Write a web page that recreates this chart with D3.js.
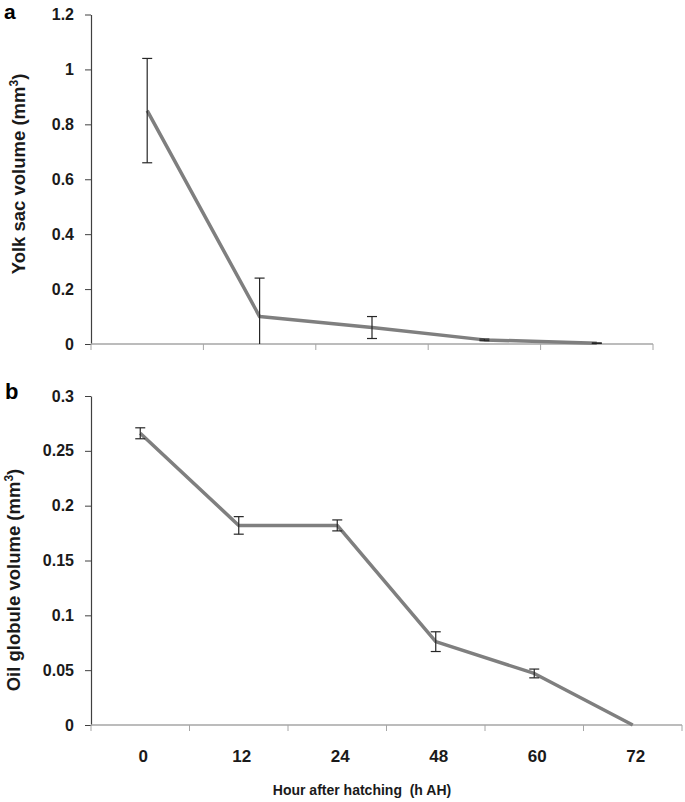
<!DOCTYPE html>
<html>
<head>
<meta charset="utf-8">
<script src="https://cdn.jsdelivr.net/npm/d3@7"></script>
<style>
  html, body { margin: 0; padding: 0; background: #fff; }
  svg { display: block; font-family: Arial, "Liberation Sans", sans-serif; }
</style>
</head>
<body>
<script>
// ---- data ----
const hours = ["0", "12", "24", "48", "60", "72"];
const yolkHours = ["0", "12", "24", "48", "60"];
const yolkMean = [0.85, 0.10, 0.06, 0.015, 0.003];
const yolkErr = [0.19, 0.14, 0.04, 0.003, 0.001];
const oilMean = [0.266, 0.182, 0.182, 0.076, 0.047, 0];
const oilErr = [0.005, 0.008, 0.005, 0.009, 0.004, 0];
const yolkTicks = [0, 0.2, 0.4, 0.6, 0.8, 1, 1.2];
const oilTicks = [0, 0.05, 0.1, 0.15, 0.2, 0.25, 0.3];

const W = 685, H = 802;
const svg = d3.select("body").append("svg").attr("width", W).attr("height", H);

const LINE = "#7f7f7f", TXT = "#1a1a1a";
const FONT = "Arial, 'Liberation Sans', sans-serif";

function panel(opts) {
  const { cats, mean, err, ticks, x0, x1, yBottom, yTop, yMax, showLabels } = opts;
  const x = d3.scaleBand().domain(cats).range([x0, x1]).padding(0);
  const y = d3.scaleLinear().domain([0, yMax]).range([yBottom, yTop]);
  const g = svg.append("g");

  // y axis
  const ya = g.append("g").attr("transform", `translate(${x0},0)`)
    .call(d3.axisLeft(y).tickValues(ticks).tickFormat(d => String(d))
      .tickSize(6).tickPadding(11).tickSizeOuter(0));
  ya.select(".domain").attr("stroke", "#404040").attr("stroke-width", 1.2);
  ya.selectAll(".tick line").attr("stroke", "#404040");
  ya.selectAll("text").attr("font-size", 16).attr("font-weight", "bold").attr("fill", TXT)
    .attr("font-family", FONT);

  // x axis (ticks at band boundaries)
  const xa = g.append("g").attr("transform", `translate(0,${yBottom})`);
  xa.append("line").attr("x1", x0).attr("x2", x1).attr("y1", 0).attr("y2", 0)
    .attr("stroke", "#a6a6a6").attr("stroke-width", 1.5);
  const bounds = cats.map(c => x(c)).concat([x(cats[cats.length - 1]) + x.bandwidth()]);
  xa.selectAll("line.tk").data(bounds).join("line").attr("class", "tk")
    .attr("x1", d => d).attr("x2", d => d).attr("y1", 0).attr("y2", 6)
    .attr("stroke", "#a6a6a6").attr("stroke-width", 1);
  if (showLabels) {
    xa.selectAll("text").data(cats).join("text")
      .attr("x", d => x(d) + x.bandwidth() / 2 + 3).attr("y", 37)
      .attr("text-anchor", "middle").attr("font-size", 17).attr("font-weight", "bold")
      .attr("fill", TXT).text(d => d);
  }

  const pts = cats.map((c, i) => ({ c, v: mean[i], e: err[i] }));
  const cx = d => x(d.c) + x.bandwidth() / 2;

  // line
  g.append("path").datum(pts)
    .attr("d", d3.line().x(cx).y(d => y(d.v)))
    .attr("fill", "none").attr("stroke", LINE).attr("stroke-width", 3.5)
    .attr("stroke-linejoin", "round");

  // error bars
  const eb = g.append("g").attr("stroke", "#262626").attr("stroke-width", 1.2);
  pts.filter(d => d.e > 0).forEach(d => {
    const hi = d.v + d.e, lo = Math.max(0, d.v - d.e);
    eb.append("line").attr("x1", cx(d)).attr("x2", cx(d)).attr("y1", y(hi)).attr("y2", y(lo));
    eb.append("line").attr("x1", cx(d) - 5).attr("x2", cx(d) + 5).attr("y1", y(hi)).attr("y2", y(hi));
    if (d.v - d.e > 0)
      eb.append("line").attr("x1", cx(d) - 5).attr("x2", cx(d) + 5).attr("y1", y(lo)).attr("y2", y(lo));
  });
  return { x, y };
}

panel({ cats: yolkHours, mean: yolkMean, err: yolkErr, ticks: yolkTicks,
  x0: 91, x1: 653, yBottom: 344, yTop: 14.5, yMax: 1.2, showLabels: false });
panel({ cats: hours, mean: oilMean, err: oilErr, ticks: oilTicks,
  x0: 91, x1: 682, yBottom: 725, yTop: 396, yMax: 0.3, showLabels: true });

// panel letters
svg.append("text").attr("x", 4).attr("y", 19).attr("font-size", 21).attr("font-weight", "bold")
  .attr("fill", "#000").text("a");
svg.append("text").attr("x", 5).attr("y", 399).attr("font-size", 22).attr("font-weight", "bold")
  .attr("fill", "#000").text("b");

// y-axis titles
function yTitle(txt, xb, yc) {
  const t = svg.append("text").attr("transform", `translate(${xb},${yc}) rotate(-90)`)
    .attr("text-anchor", "middle").attr("font-size", 18.5).attr("font-weight", "bold").attr("fill", TXT);
  t.append("tspan").text(txt);
  t.append("tspan").attr("font-size", 12).attr("dy", -7).text("3");
  t.append("tspan").attr("dy", 7).text(")");
}
yTitle("Yolk sac volume (mm", 25, 174);
yTitle("Oil globule volume (mm", 20, 580);

// x-axis title
svg.append("text").attr("x", 362).attr("y", 795).attr("text-anchor", "middle")
  .attr("font-size", 14).attr("font-weight", "bold").attr("fill", TXT)
  .attr("xml:space", "preserve").style("white-space", "pre")
  .text("Hour after hatching  (h AH)");
</script>
</body>
</html>
